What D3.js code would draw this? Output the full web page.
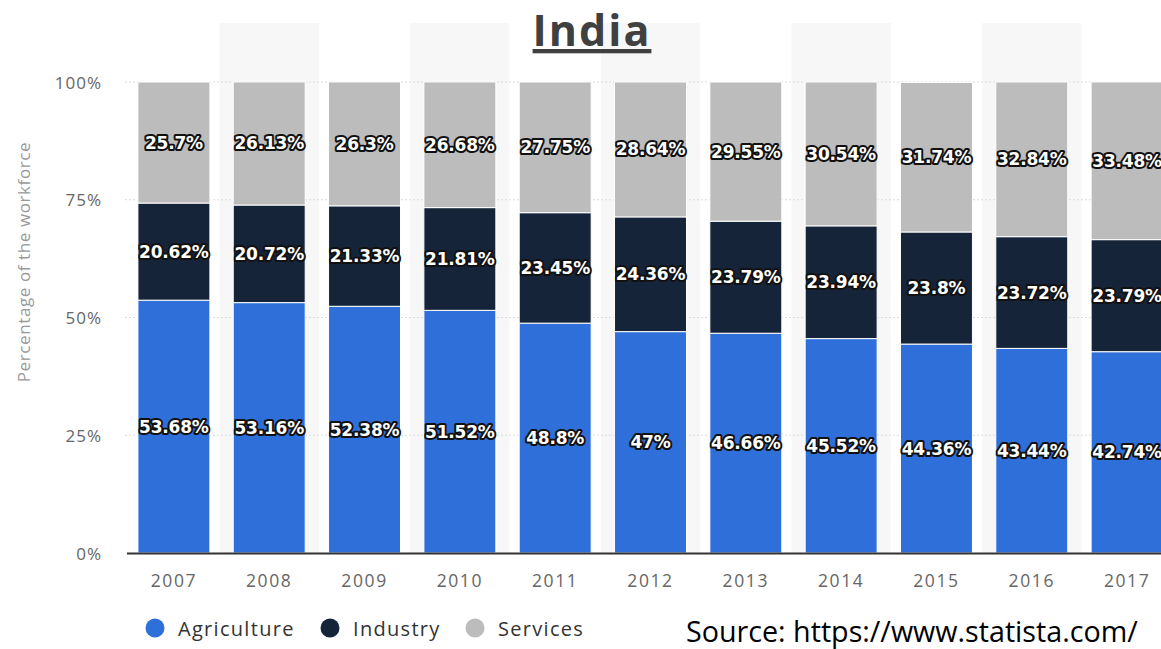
<!DOCTYPE html>
<html>
<head>
<meta charset="utf-8">
<script src="https://cdn.jsdelivr.net/npm/d3@7"></script>
<style>
  body { margin: 0; background: #fff; }
  svg { display: block; }
  .lbl { font-family: "DejaVu Sans", sans-serif; font-weight: bold; font-size: 17px; letter-spacing: -0.2px;
         fill: #fff; stroke: #111; stroke-width: 4px; paint-order: stroke; stroke-linejoin: round; }
</style>
</head>
<body>
<svg id="chart" width="1161" height="649"></svg>
<script>
const years = ["2007", "2008", "2009", "2010", "2011", "2012", "2013", "2014", "2015", "2016", "2017"];
const agriculture = [53.68, 53.16, 52.38, 51.52, 48.8, 47, 46.66, 45.52, 44.36, 43.44, 42.74];
const industry = [20.62, 20.72, 21.33, 21.81, 23.45, 24.36, 23.79, 23.94, 23.8, 23.72, 23.79];
const services = [25.7, 26.13, 26.3, 26.68, 27.75, 28.64, 29.55, 30.54, 31.74, 32.84, 33.48];
const seriesNames = ["Agriculture", "Industry", "Services"];
const colors = ["#2f6fd9", "#16243a", "#bcbcbc"];
const yTicks = [0, 25, 50, 75, 100];

const svg = d3.select("#chart");
const plotTop = 82, plotBottom = 553;

// build rows for the stack
const rows = years.map((y, i) => ({
    year: y, Agriculture: agriculture[i], Industry: industry[i], Services: services[i]
}));
const stacked = d3.stack().keys(seriesNames)(rows);

const x = d3.scaleBand().domain(years).range([126, 1175]).paddingInner(0.245).paddingOuter(0.125);
const y = d3.scaleLinear().domain([0, 100]).range([plotBottom, plotTop]);
const step = x.step();

// alternating background columns
svg.append("g").selectAll("rect")
    .data(years.filter((d, i) => i % 2 == 1))
    .enter().append("rect")
    .attr("x", d => x(d) + x.bandwidth() / 2 - step / 2 - 2)
    .attr("y", 23)
    .attr("width", step + 4)
    .attr("height", plotBottom - 23)
    .attr("fill", "#f7f7f7");

// gridlines
svg.append("g").selectAll("line")
    .data(yTicks.filter(d => d > 0))
    .enter().append("line")
    .attr("x1", 125).attr("x2", 1161)
    .attr("y1", d => y(d)).attr("y2", d => y(d))
    .attr("stroke", "#dcdcdc").attr("stroke-dasharray", "2,2");

// bars
const layers = svg.append("g").selectAll("g")
    .data(stacked)
    .enter().append("g")
    .attr("fill", (d, i) => colors[i]);
layers.selectAll("rect")
    .data(d => d)
    .enter().append("rect")
    .attr("x", d => x(d.data.year))
    .attr("y", d => y(d[1]))
    .attr("width", x.bandwidth())
    .attr("height", d => y(d[0]) - y(d[1]))
    .attr("stroke", "#fff").attr("stroke-width", 1);

// value labels
stacked.forEach(layer => {
    svg.append("g").selectAll("text")
        .data(layer)
        .enter().append("text")
        .attr("class", "lbl")
        .attr("x", d => x(d.data.year) + x.bandwidth() / 2)
        .attr("y", d => y((d[0] + d[1]) / 2))
        .attr("text-anchor", "middle")
        .attr("dominant-baseline", "central")
        .text(d => d.data[layer.key] + "%");
});

// x axis line
svg.append("line")
    .attr("x1", 127).attr("x2", 1161)
    .attr("y1", plotBottom + 0.5).attr("y2", plotBottom + 0.5)
    .attr("stroke", "#333").attr("stroke-width", 2);

// y tick labels
svg.append("g").selectAll("text")
    .data(yTicks)
    .enter().append("text")
    .attr("x", 102)
    .attr("y", d => y(d))
    .attr("text-anchor", "end")
    .attr("dominant-baseline", "central")
    .attr("font-family", "Open Sans, sans-serif")
    .attr("font-size", 17).attr("letter-spacing", 1)
    .attr("fill", "#666")
    .text(d => d + "%");

// x tick labels
svg.append("g").selectAll("text")
    .data(years)
    .enter().append("text")
    .attr("x", d => x(d) + x.bandwidth() / 2)
    .attr("y", 587)
    .attr("text-anchor", "middle")
    .attr("font-family", "Open Sans, sans-serif")
    .attr("font-size", 17.5).attr("letter-spacing", 1.6)
    .attr("fill", "#666")
    .text(d => d);

// y axis title
svg.append("text")
    .attr("transform", "translate(30,262) rotate(-90)")
    .attr("text-anchor", "middle")
    .attr("font-family", "Open Sans, sans-serif")
    .attr("font-size", 17).attr("letter-spacing", 0.6)
    .attr("fill", "#999")
    .text("Percentage of the workforce");

// legend
const legendX = [155, 330, 475];
const legend = svg.append("g").selectAll("g")
    .data(seriesNames)
    .enter().append("g")
    .attr("transform", (d, i) => `translate(${legendX[i]},628)`);
legend.append("circle").attr("r", 9.5).attr("fill", (d, i) => colors[i]);
legend.append("text")
    .attr("x", 23).attr("dominant-baseline", "central")
    .attr("font-family", "Open Sans, sans-serif")
    .attr("font-size", 20).attr("letter-spacing", 1.3)
    .attr("fill", "#333")
    .text(d => d);

// title
svg.append("text")
    .attr("x", 592).attr("y", 46)
    .attr("text-anchor", "middle")
    .attr("font-family", "Open Sans, sans-serif")
    .attr("font-weight", "bold")
    .attr("font-size", 43).attr("letter-spacing", 2)
    .attr("fill", "#404040")
    .attr("text-decoration", "underline")
    .text("India");

// source, sized to the reference width
const source = svg.append("text")
    .attr("x", 686).attr("y", 642)
    .attr("font-family", "Open Sans, sans-serif")
    .attr("font-size", 25)
    .attr("fill", "#000")
    .text("Source: https://www.statista.com/");
const w = source.node().getComputedTextLength();
source.attr("font-size", 25 * 452 / w);
</script>
</body>
</html>
